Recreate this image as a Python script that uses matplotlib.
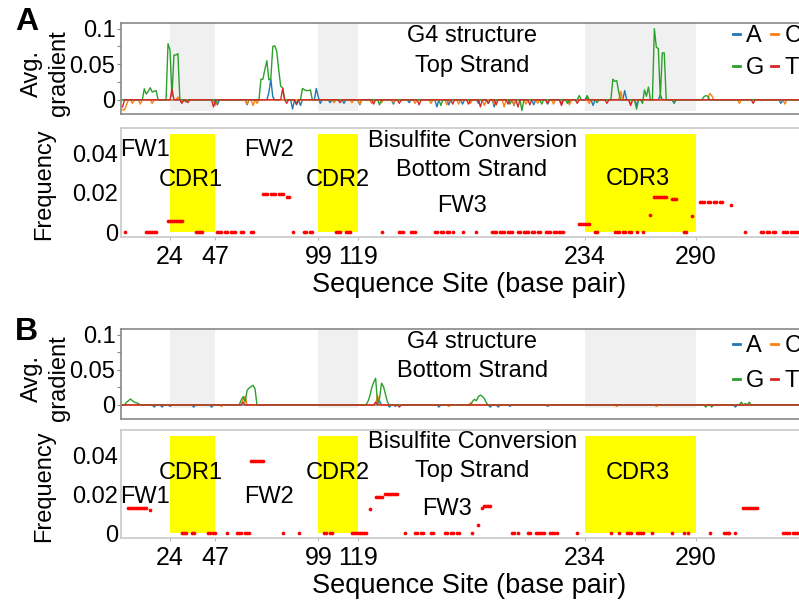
import matplotlib
matplotlib.use('Agg')
import matplotlib.pyplot as plt
import numpy as np

plt.rcParams['font.family'] = ['Liberation Sans', 'DejaVu Sans']

# ---- data ----
regions = [(24, 47, 'CDR1'), (99, 119, 'CDR2'), (234, 290, 'CDR3')]
xticks = [24, 47, 99, 119, 234, 290]
bases = ['A', 'C', 'G', 'T']
base_colors = {'A': '#1f77b4', 'C': '#ff7f0e', 'G': '#2ca02c', 'T': '#d62728'}
n_sites = 351  # sites 0..350, unlisted sites read as 0

# panel A, avg gradient (top strand): non-zero (site, value)
gradA_A = [(48, -0.007), (63, -0.007), (74, 0.010), (75, 0.029), (76, 0.004), (86, -0.013),
           (88, -0.007), (90, -0.008), (98, 0.016), (99, 0.004), (100, -0.005), (105, -0.004),
           (112, -0.005), (120, -0.007), (137, -0.006), (145, -0.004), (159, -0.010), (165, -0.007),
           (172, -0.006), (180, -0.005), (188, -0.010), (198, -0.008), (208, -0.007), (215, -0.006),
           (222, -0.005), (226, -0.004), (235, 0.004), (238, -0.008), (254, 0.013), (260, -0.007),
           (272, 0.007), (279, -0.005), (333, -0.005)]
gradA_C = [(0, -0.014), (1, -0.014), (2, -0.007), (5, -0.005), (9, -0.006), (15, -0.005),
           (28, 0.004), (30, -0.004), (47, -0.008), (63, -0.006), (66, -0.008), (68, -0.005),
           (107, -0.004), (116, -0.004), (120, -0.006), (126, -0.005), (131, -0.004), (137, -0.004),
           (148, -0.005), (156, -0.005), (164, -0.007), (170, -0.006), (176, -0.005), (183, -0.008),
           (188, -0.006), (193, -0.010), (198, -0.007), (204, -0.006), (210, -0.005), (218, -0.006),
           (226, -0.007), (236, -0.005), (252, 0.012), (257, -0.006), (297, 0.009), (298, 0.006),
           (312, -0.005), (335, -0.006)]
gradA_G = [(11, 0.0155), (12, 0.008), (13, 0.012), (14, 0.017), (15, 0.011), (16, 0.012),
           (17, 0.013), (23, 0.079), (24, 0.070), (25, 0.005), (26, 0.063), (27, 0.063),
           (28, 0.065), (32, -0.003), (47, -0.005), (70, 0.029), (71, 0.029), (72, 0.043),
           (73, 0.055), (74, 0.028), (75, 0.030), (76, 0.075), (77, 0.076), (78, 0.068),
           (79, 0.042), (80, 0.019), (81, 0.017), (88, -0.005), (91, 0.016), (92, 0.014),
           (93, 0.013), (94, 0.013), (95, 0.014), (130, -0.007), (161, -0.008), (185, -0.005),
           (196, -0.006), (202, -0.015), (212, -0.006), (225, -0.005), (231, 0.006), (235, 0.006),
           (240, -0.004), (248, 0.029), (249, 0.026), (250, 0.027), (251, 0.010), (260, -0.013),
           (263, -0.005), (264, 0.014), (265, 0.005), (266, 0.018), (269, 0.100), (270, 0.074),
           (271, 0.072), (272, 0.003), (273, 0.066), (274, 0.066), (279, -0.004), (294, 0.004),
           (295, 0.006), (296, 0.005)]
gradA_T = [(0, -0.010), (25, 0.015), (30, -0.005), (33, -0.004), (46, -0.010), (81, 0.016),
           (83, -0.005), (88, -0.006), (110, -0.004), (127, -0.006), (140, -0.005), (150, -0.007),
           (167, -0.006), (175, -0.006), (181, -0.010), (185, -0.005), (189, -0.007), (195, -0.006),
           (200, -0.010), (206, -0.007), (215, -0.005), (222, -0.008), (230, -0.005), (245, -0.005),
           (257, -0.008), (319, -0.005)]

# panel B, avg gradient (bottom strand)
gradB_A = [(16, -0.003), (20, -0.003), (24, -0.002), (36, -0.003), (45, -0.003), (130, 0.006),
           (135, -0.003), (138, -0.002), (160, -0.003), (186, -0.003), (190, -0.003), (196, -0.002),
           (215, -0.002), (310, -0.003)]
gradB_C = [(50, -0.002), (61, 0.008), (62, 0.012), (129, 0.014), (165, -0.002), (176, 0.003),
           (250, -0.002), (270, -0.002)]
gradB_G = [(2, 0.004), (3, 0.006), (4, 0.0085), (5, 0.006), (6, 0.004), (7, 0.003), (8, 0.002),
           (60, 0.007), (61, 0.012), (62, 0.004), (63, 0.021), (64, 0.024), (65, 0.026),
           (66, 0.028), (67, 0.023), (124, 0.004), (125, 0.012), (126, 0.024), (127, 0.032),
           (128, 0.038), (129, 0.003), (130, 0.009), (131, 0.031), (132, 0.026), (133, 0.015),
           (134, 0.004), (177, 0.005), (178, 0.008), (179, 0.006), (180, 0.012), (181, 0.014),
           (182, 0.012), (183, 0.009), (184, 0.003), (295, -0.003), (298, -0.003), (313, 0.004),
           (315, 0.002), (317, 0.004)]
gradB_T = [(61, 0.004), (128, 0.004), (140, -0.003)]

# bisulfite conversion frequency: (site, frequency)
freqA = [(1, 0), (12, 0), (13, 0), (14, 0), (15, 0), (16, 0), (17, 0),
         (23, 0.0055), (24, 0.0055), (25, 0.0055), (26, 0.0055), (27, 0.0055), (28, 0.0055),
         (29, 0.0055), (30, 0.0055), (37, 0), (38, 0), (39, 0), (40, 0),
         (48, 0), (49, 0), (50, 0), (52, 0), (53, 0), (55, 0), (56, 0), (57, 0),
         (60, 0), (61, 0), (65, 0), (66, 0),
         (71, 0.0195), (72, 0.0195), (73, 0.0195), (75, 0.0195), (76, 0.0195), (77, 0.0195),
         (79, 0.0195), (80, 0.0195), (81, 0.0195), (83, 0.018), (84, 0.018),
         (86, 0), (92, 0), (93, 0), (95, 0), (96, 0),
         (108, 0), (109, 0), (110, 0), (113, 0), (114, 0), (115, 0), (131, 0),
         (140, 0), (141, 0), (142, 0), (146, 0), (147, 0), (148, 0),
         (158, 0), (159, 0), (161, 0), (162, 0), (164, 0), (165, 0), (167, 0), (172, 0), (179, 0),
         (187, 0), (188, 0), (189, 0), (191, 0), (192, 0), (193, 0), (195, 0), (196, 0), (197, 0),
         (200, 0), (201, 0), (203, 0), (204, 0), (205, 0), (207, 0), (208, 0), (210, 0), (211, 0),
         (214, 0), (215, 0), (216, 0), (218, 0), (219, 0), (221, 0), (222, 0), (223, 0),
         (231, 0.004), (232, 0.004), (233, 0.004), (234, 0.004), (235, 0.004), (236, 0.004),
         (239, 0), (240, 0), (249, 0), (250, 0), (251, 0), (253, 0), (254, 0), (256, 0), (257, 0),
         (260, 0), (263, 0), (267, 0.0085),
         (269, 0.018), (270, 0.018), (271, 0.018), (272, 0.018), (273, 0.018), (274, 0.018),
         (275, 0.018), (278, 0.017), (279, 0.017), (280, 0.017), (284, 0), (285, 0), (288, 0.008),
         (292, 0.0155), (293, 0.0155), (294, 0.0155), (296, 0.0155), (297, 0.0155), (299, 0.0155),
         (300, 0.0155), (302, 0.0155), (303, 0.0155), (308, 0.014), (315, 0),
         (323, 0), (324, 0), (326, 0), (327, 0), (329, 0), (330, 0),
         (334, 0), (335, 0), (336, 0), (338, 0), (339, 0), (340, 0), (341, 0), (342, 0)]
freqB = [(3, 0.013), (4, 0.013), (5, 0.013), (6, 0.013), (7, 0.013), (8, 0.013), (9, 0.013),
         (10, 0.013), (11, 0.013), (12, 0.013), (14, 0.012),
         (30, 0), (31, 0), (32, 0), (35, 0), (36, 0), (43, 0), (44, 0), (46, 0), (47, 0), (53, 0),
         (58, 0), (59, 0), (60, 0), (62, 0), (63, 0), (64, 0),
         (65, 0.037), (66, 0.037), (67, 0.037), (68, 0.037), (69, 0.037), (70, 0.037), (71, 0.037),
         (81, 0), (89, 0), (102, 0), (103, 0), (105, 0), (106, 0),
         (116, 0), (117, 0), (118, 0), (119, 0), (120, 0), (121, 0), (122, 0), (123, 0),
         (125, 0.0125), (128, 0.0187), (129, 0.0187), (130, 0.0187), (131, 0.0187),
         (133, 0.020), (134, 0.020), (135, 0.020), (136, 0.020), (137, 0.020), (138, 0.020),
         (139, 0.020),
         (143, 0), (148, 0), (149, 0), (151, 0), (152, 0), (156, 0), (157, 0), (163, 0), (164, 0),
         (166, 0), (167, 0), (169, 0), (170, 0), (177, 0), (180, 0.004),
         (182, 0.013), (183, 0.014), (184, 0.014), (185, 0.014), (186, 0.014),
         (197, 0), (198, 0), (200, 0), (205, 0), (206, 0), (209, 0), (210, 0), (211, 0), (212, 0),
         (213, 0), (216, 0), (217, 0), (218, 0), (220, 0), (230, 0),
         (247, 0), (251, 0), (255, 0), (256, 0), (257, 0), (260, 0), (261, 0), (262, 0), (263, 0),
         (268, 0), (278, 0), (284, 0), (286, 0), (297, 0),
         (304, 0), (305, 0), (306, 0), (307, 0), (310, 0),
         (314, 0.013), (315, 0.013), (316, 0.013), (317, 0.013), (318, 0.013), (319, 0.013),
         (320, 0.013), (321, 0.013),
         (334, 0), (335, 0), (336, 0), (337, 0), (339, 0), (340, 0), (341, 0), (342, 0)]

# ---- figure ----
fig = plt.figure(figsize=(7.99, 6.03), dpi=100)
L, W = 0.1514, 0.868
XLIM = (-0.8, 350)


def site_series(points):
    y = np.zeros(n_sites)
    for s, v in points:
        y[s] = v
    return np.arange(n_sites), y


def draw_top(ax, series, gray_lo, text2, legend_y, lspace):
    for r in regions:
        ax.fill_between([r[0], r[1]], gray_lo, 0.108, color='#f0f0f0', lw=0, zorder=0)
    lines = {}
    for b in bases:
        x, y = site_series(series[b])
        lines[b], = ax.plot(x, y, color=base_colors[b], lw=1.0, label=b)
    ax.set_xlim(*XLIM)
    ax.set_ylim(-0.02, 0.108)
    ax.set_xticks([])
    ax.set_yticks([0, 0.05, 0.1])
    ax.set_yticklabels(['0', '0.05', '0.1'])
    ax.set_yticks([0.025, 0.075], minor=True)
    ax.tick_params(axis='y', which='both', length=3, width=0.8, color='#888888', pad=1, labelsize=17)
    for sp in ax.spines.values():
        sp.set_color('#888888')
        sp.set_linewidth(1.2)
    ax.set_ylabel('Avg.\ngradient', fontsize=17, linespacing=1.3)
    ax.yaxis.set_label_coords(-0.074, 0.45)
    ax.text(176.8, 0.090, 'G4 structure', fontsize=17, ha='center', va='center')
    ax.text(176.8, 0.048, text2, fontsize=17, ha='center', va='center')
    hs = [lines['A'], lines['G'], lines['C'], lines['T']]
    leg = ax.legend(hs, ['A', 'G', 'C', 'T'], ncol=2, loc='upper left',
                    bbox_to_anchor=(0.8825, legend_y), frameon=False, handlelength=0.3,
                    handletextpad=0.25, columnspacing=0.3, labelspacing=lspace, fontsize=17,
                    borderpad=0, borderaxespad=0)
    for h in leg.legend_handles:
        h.set_linewidth(2)


def draw_bottom(ax, freq, labels):
    for r in regions:
        ax.fill_between([r[0], r[1]], 0, 0.05, color='#ffff00', lw=0, zorder=0)
    ax.scatter([p[0] for p in freq], [p[1] for p in freq], s=7, color='red', lw=0, zorder=3)
    ax.set_xlim(*XLIM)
    ax.set_ylim(-0.0025, 0.053)
    ax.set_xticks(xticks)
    ax.set_xticklabels([str(t) for t in xticks])
    ax.set_yticks([0, 0.02, 0.04])
    ax.set_yticklabels(['0', '0.02', '0.04'])
    ax.tick_params(axis='x', length=2, color='#bbbbbb', pad=4, labelsize=18)
    ax.tick_params(axis='y', length=0, pad=2, labelsize=17)
    for sp in ax.spines.values():
        sp.set_color('#c8c8c8')
        sp.set_linewidth(1.2)
    ax.set_ylabel('Frequency', fontsize=17)
    ax.yaxis.set_label_coords(-0.095, 0.48)
    ax.set_xlabel('Sequence Site (base pair)', fontsize=19.5)
    ax.xaxis.set_label_coords(0.502, -0.44)
    ax.xaxis.label.set_va('center')
    for txt, x, y in labels:
        ax.text(x, y, txt, fontsize=17, ha='center', va='center')


axA1 = fig.add_axes([L, 0.8109, W, 0.1509])
axA2 = fig.add_axes([L, 0.6070, W, 0.1808])
axB1 = fig.add_axes([L, 0.3051, W, 0.1493])
axB2 = fig.add_axes([L, 0.1078, W, 0.1791])

draw_top(axA1, {'A': gradA_A, 'C': gradA_C, 'G': gradA_G, 'T': gradA_T}, -0.016, 'Top Strand',
         0.98, 0.45)
draw_top(axB1, {'A': gradB_A, 'C': gradB_C, 'G': gradB_G, 'T': gradB_T}, -0.004, 'Bottom Strand',
         0.93, 0.55)

draw_bottom(axA2, freqA, [('FW1', 11.4, 0.042), ('CDR1', 34.6, 0.0265), ('FW2', 74, 0.042),
                          ('CDR2', 109, 0.0265), ('Bisulfite Conversion', 177, 0.0465),
                          ('Bottom Strand', 176.5, 0.0315), ('FW3', 171.5, 0.0135),
                          ('CDR3', 260.5, 0.027)])
draw_bottom(axB2, freqB, [('FW1', 11.4, 0.0187), ('CDR1', 34.6, 0.031), ('FW2', 74, 0.0187),
                          ('CDR2', 109, 0.031), ('Bisulfite Conversion', 177, 0.0467),
                          ('Top Strand', 176.8, 0.0317), ('FW3', 164, 0.0125),
                          ('CDR3', 260.5, 0.031)])

fig.text(0.019, 0.964, 'A', fontsize=23, fontweight='bold', va='center', ha='left')
fig.text(0.019, 0.450, 'B', fontsize=23, fontweight='bold', va='center', ha='left')

fig.savefig('out.png', dpi=100)
